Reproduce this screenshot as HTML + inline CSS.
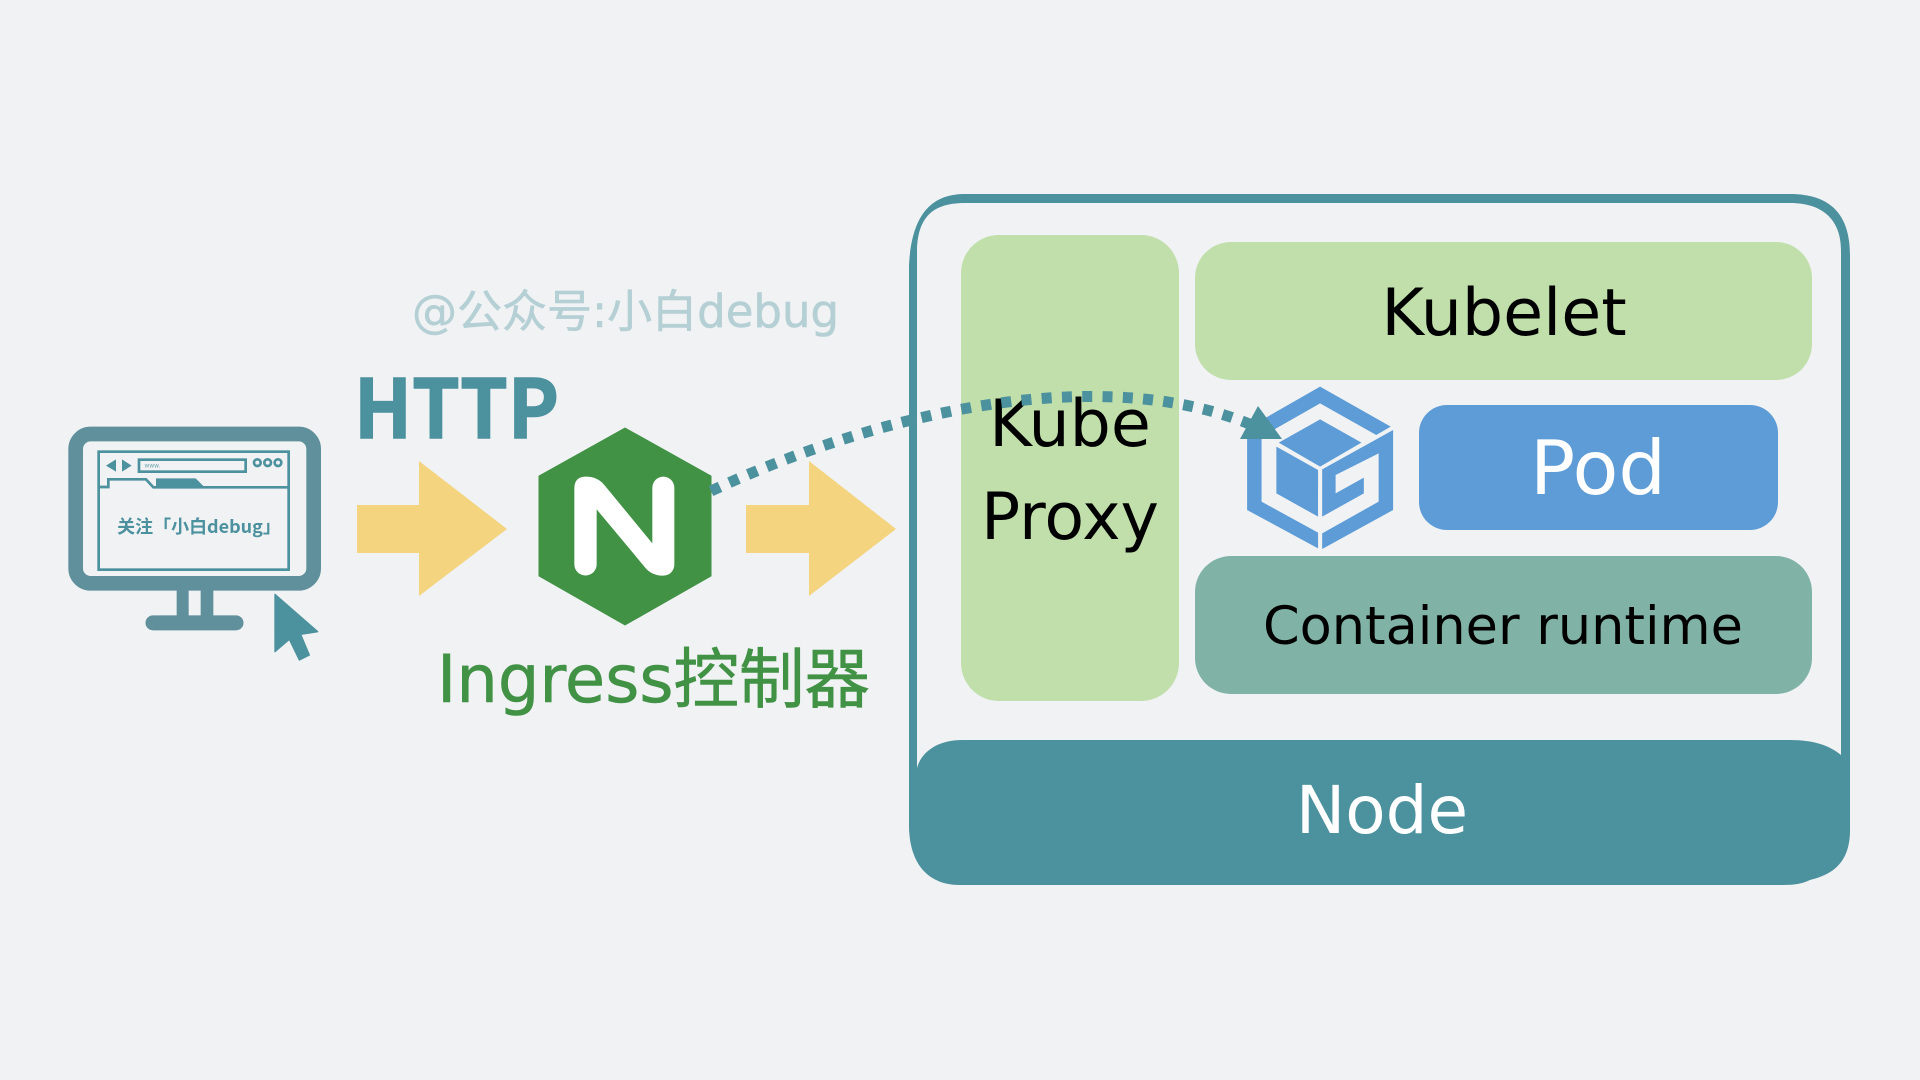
<!DOCTYPE html>
<html><head><meta charset="utf-8"><style>
html,body{margin:0;padding:0;background:#f0f2f4;width:1920px;height:1080px;overflow:hidden}
svg{display:block}
text{font-family:"DejaVu Sans","Noto Sans CJK SC",sans-serif}
</style></head><body>
<svg width="1920" height="1080" viewBox="0 0 1920 1080" xmlns="http://www.w3.org/2000/svg">
<rect width="1920" height="1080" fill="#f0f2f4"/>
<path fill="#4c919e" fill-rule="evenodd" d="M965 194H1790C1830 194 1850 214 1850 255V830C1850 865 1830 875 1810 880C1800 885 1790 885 1780 885H960C925 885 909 860 909 825V265C912 210 935 194 965 194ZM965 203C935 203 918 215 917 250V780H1841V250C1841 222 1825 203 1790 203Z"/>
<path fill="#4c919e" d="M917 768C922 750 940 740 962 740H1790C1815 740 1830 746 1841 755L1850 765V830H912V780H917Z"/>
<rect x="961" y="235" width="218" height="466" rx="38" fill="#c1dfaa"/>
<rect x="1195" y="242" width="617" height="138" rx="36" fill="#c1dfaa"/>
<rect x="1419" y="405" width="359" height="125" rx="28" fill="#5d9cd6"/>
<rect x="1195" y="556" width="617" height="138" rx="36" fill="#80b3a6"/>
<text x="1070" y="446" font-size="65" text-anchor="middle">Kube</text>
<text x="1070" y="539" font-size="65" text-anchor="middle">Proxy</text>
<text x="1504" y="335" font-size="65" text-anchor="middle">Kubelet</text>
<text x="1598" y="494" font-size="75" text-anchor="middle" fill="#fff">Pod</text>
<text x="1503" y="644" font-size="52.5" text-anchor="middle">Container runtime</text>
<text x="1382" y="833" font-size="66" text-anchor="middle" fill="#fff">Node</text>
<g transform="translate(900 180) scale(.34435 .33333)" fill="#5d9cd6">
<polygon points="1220,620 1425,740 1383,765 1220,670 1050,770 1050,965 1214,1058 1214,1105 1008,990 1008,745"/>
<polygon points="1220,718 1340,788 1220,860 1100,788"/>
<polygon points="1093,800 1214,870 1214,1010 1093,940"/>
<polygon points="1432,750 1226,868 1226,1010 1347,940 1347,893 1265,940 1265,885 1390,820 1390,965 1226,1060 1226,1107 1432,990"/>
</g>
<g transform="translate(50 350) scale(.33333)">
<rect x="77" y="252" width="714" height="448" rx="45" fill="none" stroke="#5f909c" stroke-width="44"/>
<path d="M380 720H416V796H452V720H490V796H558A22 22 0 0 1 558 841H309A22 22 0 0 1 309 796H380Z" fill="#5f909c"/>
<rect x="146" y="305" width="570" height="354" fill="none" stroke="#4c919e" stroke-width="8"/>
<polyline points="146,411 175,411 175,388 288,388 310,412 716,412" fill="none" stroke="#4c919e" stroke-width="8"/>
<polygon points="318,385 437,385 460,408 318,408" fill="#4c919e"/>
<polygon points="168,347 198,328 198,365" fill="#4c919e"/>
<polygon points="216,328 245,347 216,365" fill="#4c919e"/>
<rect x="267" y="329" width="320" height="36" fill="none" stroke="#4c919e" stroke-width="8"/>
<g fill="none" stroke="#4c919e" stroke-width="8"><circle cx="622" cy="338" r="10"/><circle cx="653" cy="338" r="10"/><circle cx="684" cy="338" r="10"/></g>
<text x="283" y="352" font-size="18" fill="#6fa5af">www.</text>
<text x="447" y="549" font-size="54" font-weight="700" fill="#4c919e" text-anchor="middle" style="font-family:'Noto Sans CJK SC',sans-serif">关注「小白debug」</text>
<polygon points="675,733 803,845 752,853 778,915 748,930 718,868 675,905" fill="#4c919e" stroke="#4c919e" stroke-width="4" stroke-linejoin="round"/>
</g>
<polygon points="357,505 419,505 419,461 507,529 419,596 419,553 357,553" fill="#f4d47e"/>
<polygon points="746,505 809,505 809,461 896,529 809,596 809,553 746,553" fill="#f4d47e"/>
<polygon points="625,428 711,476 711,576 625,625 539,576 539,476" fill="#419245" stroke="#419245" stroke-width="1" stroke-linejoin="round"/>
<path transform="translate(510 400) scale(.33333)" fill="#fff" d="M193 265Q193 230 228 230Q262 230 283 255L427 430V263A33 33 0 0 1 493 263V493A33 33 0 0 1 460 527Q425 527 405 502L260 328V493A33 33 0 0 1 193 493Z"/>
<text x="354" y="438" font-size="81" font-weight="700" fill="#4c919e" stroke="#4c919e" stroke-width="1.5" textLength="205" lengthAdjust="spacingAndGlyphs" style="font-family:'Noto Sans CJK SC',sans-serif">HTTP</text>
<text x="412" y="327" font-size="45" fill="#b5d0d5" stroke="#b5d0d5" stroke-width=".6">@公众号:小白debug</text>
<text x="437" y="702" font-size="65.5" fill="#419245" stroke="#419245" stroke-width=".6">Ingress控制器</text>
<path d="M711 491C880 412 1100 362 1252 425" fill="none" stroke="#4c919e" stroke-width="11" stroke-dasharray="10 10.3"/>
<polygon points="1258,406 1240,439 1282,439" fill="#4c919e"/>
</svg>
</body></html>
